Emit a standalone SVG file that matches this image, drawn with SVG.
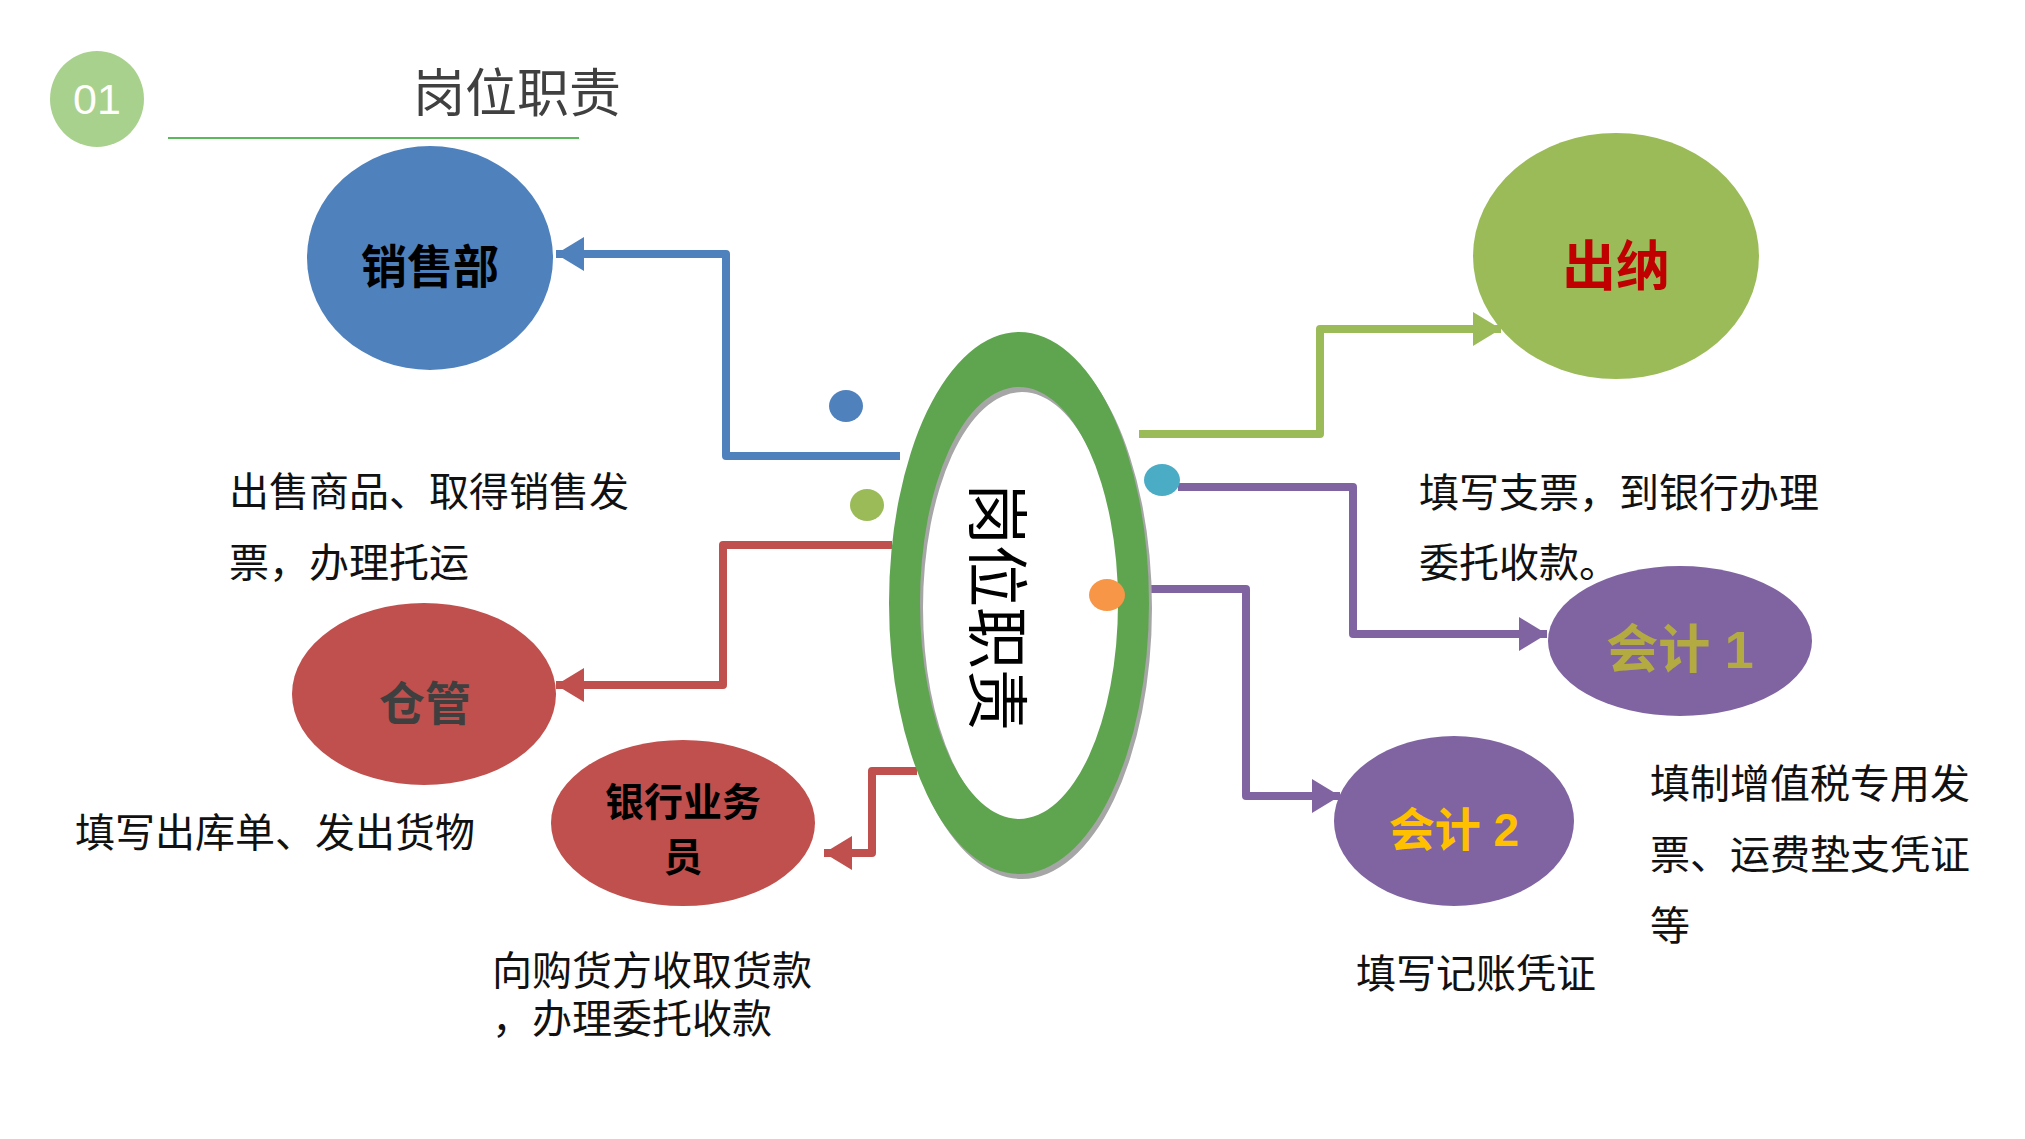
<svg xmlns="http://www.w3.org/2000/svg" width="2025" height="1139" viewBox="0 0 2025 1139">
<style>
.cn{font-family:"Liberation Sans","Noto Sans CJK SC",sans-serif;}
.sf{font-family:"Liberation Serif","Noto Sans CJK SC",serif;}
.desc{font-size:40px;fill:#111;}
.lbl{font-weight:bold;text-anchor:middle;dominant-baseline:central;}
.conn{fill:none;stroke-width:8;stroke-linejoin:round;stroke-linecap:butt;}
</style>
<defs>
<marker id="aBlue" markerUnits="userSpaceOnUse" markerWidth="30" markerHeight="34" refX="28" refY="17" orient="auto"><path d="M0,0 L28,17 L0,34 Z" fill="#4f81bd"/></marker>
<marker id="aRed" markerUnits="userSpaceOnUse" markerWidth="30" markerHeight="34" refX="28" refY="17" orient="auto"><path d="M0,0 L28,17 L0,34 Z" fill="#c0504d"/></marker>
<marker id="aGreen" markerUnits="userSpaceOnUse" markerWidth="30" markerHeight="34" refX="28" refY="17" orient="auto"><path d="M0,0 L28,17 L0,34 Z" fill="#9bbb59"/></marker>
<marker id="aPurple" markerUnits="userSpaceOnUse" markerWidth="30" markerHeight="34" refX="28" refY="17" orient="auto"><path d="M0,0 L28,17 L0,34 Z" fill="#8064a2"/></marker>
</defs>
<rect width="2025" height="1139" fill="#ffffff"/>

<g id="header">
<ellipse cx="97" cy="99" rx="47" ry="48" fill="#a9d18e"/>
<text x="97" y="114" class="cn" font-size="43" fill="#ffffff" text-anchor="middle">01</text>
<text x="413" y="112" class="cn" font-size="52" fill="#404040">岗位职责</text>
<line x1="168" y1="138" x2="579" y2="138" stroke="#5cb85c" stroke-width="2"/>
</g>

<g id="connectors">
<path class="conn" stroke="#4f81bd" d="M900,456 H726 V254 H556" marker-end="url(#aBlue)"/>
<path class="conn" stroke="#c0504d" d="M892,545 H723 V685 H556" marker-end="url(#aRed)"/>
<path class="conn" stroke="#c0504d" d="M917,771 H872 V853 H824" marker-end="url(#aRed)"/>
<path class="conn" stroke="#9bbb59" d="M1139,434 H1320 V329 H1501" marker-end="url(#aGreen)"/>
<path class="conn" stroke="#8064a2" d="M1178,487 H1353 V634 H1547" marker-end="url(#aPurple)"/>
<path class="conn" stroke="#8064a2" d="M1149,589 H1246 V796 H1340" marker-end="url(#aPurple)"/>
</g>

<g id="center">
<path transform="translate(3,5)" fill="#a6a6a6" fill-rule="evenodd" d="M889,603 a130,271 0 1,0 260,0 a130,271 0 1,0 -260,0 Z M920,603 a99,216 0 1,0 198,0 a99,216 0 1,0 -198,0 Z"/>
<path fill="#5fa550" fill-rule="evenodd" d="M889,603 a130,271 0 1,0 260,0 a130,271 0 1,0 -260,0 Z M920,603 a99,216 0 1,0 198,0 a99,216 0 1,0 -198,0 Z"/>
<text transform="translate(995,607) rotate(90)" class="cn" font-size="62" fill="#000" text-anchor="middle" dominant-baseline="central">岗位职责</text>
</g>

<g id="dots">
<ellipse cx="846" cy="406" rx="17" ry="16" fill="#4f81bd"/>
<ellipse cx="867" cy="505" rx="17" ry="16" fill="#9bbb59"/>
<ellipse cx="1162" cy="480" rx="18" ry="16" fill="#4bacc6"/>
<ellipse cx="1107" cy="595" rx="18" ry="16" fill="#f79646"/>
</g>

<g id="node-sales">
<ellipse cx="430" cy="258" rx="123" ry="112" fill="#4f81bd"/>
<text x="430" y="267" class="cn lbl" font-size="46" fill="#000">销售部</text>
</g>

<g id="node-cashier">
<ellipse cx="1616" cy="256" rx="143" ry="123" fill="#9bbb59"/>
<text x="1616" y="267" class="cn lbl" font-size="54" fill="#c00000">出纳</text>
</g>

<g id="node-warehouse">
<ellipse cx="424" cy="694" rx="132" ry="91" fill="#c0504d"/>
<text x="425" y="704" class="cn lbl" font-size="46" fill="#3f3f3f">仓管</text>
</g>

<g id="node-bank">
<ellipse cx="683" cy="823" rx="132" ry="83" fill="#c0504d"/>
<text x="683" y="802" class="cn lbl" font-size="39" fill="#000">银行业务</text>
<text x="683" y="857" class="cn lbl" font-size="39" fill="#000">员</text>
</g>

<g id="node-acct1">
<ellipse cx="1680" cy="641" rx="132" ry="75" fill="#8064a2"/>
<text x="1680" y="650" class="cn lbl" font-size="52" fill="#b3aa42">会计 1</text>
</g>

<g id="node-acct2">
<ellipse cx="1454" cy="821" rx="120" ry="85" fill="#8064a2"/>
<text x="1454" y="830" class="cn lbl" font-size="46" fill="#ffc000">会计 2</text>
</g>

<g id="descriptions">
<text x="229" y="506" class="cn desc">出售商品、取得销售发</text>
<text x="229" y="577" class="cn desc">票，办理托运</text>
<text x="75" y="847" class="cn desc">填写出库单、发出货物</text>
<text x="492" y="985" class="sf desc">向购货方收取货款</text>
<text x="492" y="1033" class="sf desc">，办理委托收款</text>
<text x="1419" y="507" class="cn desc">填写支票，到银行办理</text>
<text x="1419" y="577" class="cn desc">委托收款。</text>
<text x="1650" y="798" class="cn desc">填制增值税专用发</text>
<text x="1650" y="869" class="cn desc">票、运费垫支凭证</text>
<text x="1650" y="940" class="cn desc">等</text>
<text x="1356" y="988" class="sf desc">填写记账凭证</text>
</g>
</svg>
